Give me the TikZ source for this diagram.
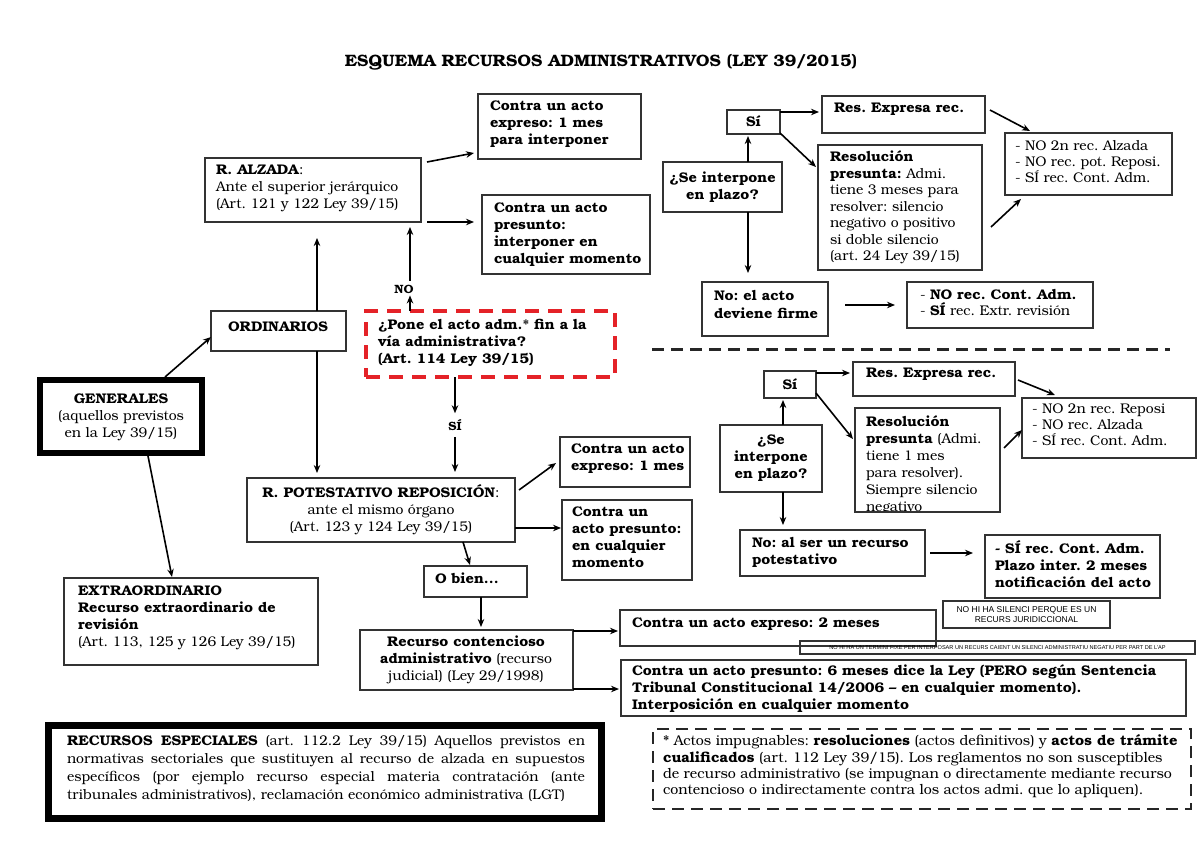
\documentclass[tikz,border=0pt]{standalone}
\usepackage{fontspec}
\setmainfont{TeX Gyre Bonum}[BoldFeatures={FakeStretch=1.04}]
\setsansfont{Liberation Sans}
\usetikzlibrary{calc,arrows.meta}
\newcommand\frm[6][]{\node[frm,#1,anchor=north west,minimum width={(#5)-(#3)},minimum height={(#6)-(#4)}] (#2) at (#3,#4) {};}
\frenchspacing
\begin{document}
\begin{tikzpicture}[x=1pt,y=-1pt,
  frm/.style={draw=black!80, line width=1.2pt, inner sep=0pt, outer sep=0pt},
  txt/.style={inner sep=0pt, outer sep=0pt, font=\fontsize{14}{17}\selectfont, align=left, anchor=north west},
  btxt/.style={txt, font=\bfseries\fontsize{14}{17}\selectfont},
  ctxt/.style={inner sep=0pt, outer sep=0pt, font=\fontsize{14}{17}\selectfont, align=center},
  bctxt/.style={ctxt, font=\bfseries\fontsize{14}{17}\selectfont},
  tiny/.style={inner sep=0pt, outer sep=0pt, font=\sffamily\fontsize{8.5}{9.5}\selectfont, align=center},
  arr/.style={line width=1.6pt, -{Stealth[length=8pt,width=6.5pt]}},
  thickfrm/.style={draw=black, line width=6pt, inner sep=0pt, outer sep=0pt},
  reddash/.style={draw={rgb,255:red,228;green,34;blue,40}, line width=3.5pt, dash pattern=on 14pt off 9pt},
  blkdash/.style={draw=black!85, line width=2.4pt, dash pattern=on 12pt off 7pt},
]
\useasboundingbox (0,0) rectangle (1200,849);
\fill[white] (0,0) rectangle (1200,849);

% title
\node[font=\bfseries\fontsize{16.5}{19}\selectfont] (title) at (601,62) {ESQUEMA RECURSOS ADMINISTRATIVOS (LEY 39/2015)};

% ---------- left / centre ----------
\frm{alz}{205}{158}{421}{222}
\node[txt] (alz-t) at (216,165) {\textbf{R. ALZADA}:\\Ante el superior jerárquico\\(Art. 121 y 122 Ley 39/15)};

\frm{cexp1}{478}{94}{641}{159}
\node[btxt] (cexp1-t) at (490,101) {Contra un acto\\expreso: 1 mes\\para interponer};

\frm{cpres1}{482}{195}{650}{274}
\node[btxt] (cpres1-t) at (494,203) {Contra un acto\\presunto:\\interponer en\\cualquier momento};

\frm{ordi}{211}{311}{346}{351}
\node[bctxt] (ordi-t) at (278,327) {ORDINARIOS};

\node[reddash,inner sep=0pt,outer sep=0pt,anchor=north west,minimum width=249,minimum height=66] (red) at (366,311) {};
\node[btxt] (red-t) at (378,319) {¿Pone el acto adm.* fin a la\\vía administrativa?\\(Art. 114 Ley 39/15)};

\node[thickfrm,anchor=north west,minimum width=162,minimum height=73] (gen) at (40,380) {};
\node[ctxt] (gen-t) at (121,417) {\textbf{GENERALES}\\(aquellos previstos\\en la Ley 39/15)};

\frm{extra}{64}{578}{318}{665}
\node[txt] (extra-t) at (78,586) {\textbf{EXTRAORDINARIO}\\\textbf{Recurso extraordinario de}\\\textbf{revisión}\\(Art. 113, 125 y 126 Ley 39/15)};

\frm{pot}{247}{478}{515}{542}
\node[ctxt] (pot-t) at (381,510) {\textbf{R. POTESTATIVO REPOSICIÓN}:\\ante el mismo órgano\\(Art. 123 y 124 Ley 39/15)};

\frm{cexp2}{560}{437}{690}{487}
\node[btxt] (cexp2-t) at (571,444) {Contra un acto\\expreso: 1 mes};

\frm{cpres2}{562}{500}{692}{580}
\node[btxt] (cpres2-t) at (572,507) {Contra un\\acto presunto:\\en cualquier\\momento};

\frm{obien}{424}{566}{527}{597}
\node[btxt] (obien-t) at (435,573) {O bien...};

\frm{cont}{360}{630}{573}{690}
\node[ctxt] (cont-t) at (466,660) {\textbf{Recurso contencioso}\\\textbf{administrativo} (recurso\\judicial) (Ley 29/1998)};

\frm{cexp3}{620}{610}{936}{646}
\node[btxt] (cexp3-t) at (632,618) {Contra un acto expreso: 2 meses};

\frm{cpres3}{621}{660}{1186}{716}
\node[btxt] (cpres3-t) at (632,665) {Contra un acto presunto: 6 meses dice la Ley (PERO según Sentencia\\Tribunal Constitucional 14/2006 -- en cualquier momento).\\Interposición en cualquier momento};

\frm{nota1}{943}{601}{1110}{628}
\node[tiny] (nota1-t) at (1026.5,614.5) {NO HI HA SILENCI PERQUE ES UN\\RECURS JURIDICCIONAL};

\frm{nota2}{800}{641}{1195}{654}
\node[tiny,font=\sffamily\fontsize{5.6}{6}\selectfont] (nota2-t) at (997.5,647.5) {NO HI HA UN TERMINI FIXE PER INTERPOSAR UN RECURS CAIENT UN SILENCI ADMINISTRATIU NEGATIU PER PART DE L'AP};

% labels
\node[font=\bfseries\fontsize{12}{14}\selectfont,inner sep=0pt] (nolab) at (404,289) {NO};
\node[font=\bfseries\fontsize{12}{14}\selectfont,inner sep=0pt] (silab) at (455,425) {SÍ};

% ---------- upper right ----------
\frm{si1}{727}{110}{780}{134}
\node[bctxt] (si1-t) at (753.5,121) {Sí};

\frm{plazo1}{663}{162}{782}{212}
\node[bctxt] (plazo1-t) at (722.5,187) {¿Se interpone\\en plazo?};

\frm{rexp1}{822}{96}{985}{133}
\node[btxt] (rexp1-t) at (834,103) {Res. Expresa rec.};

\frm{rpres1}{818}{145}{982}{270}
\node[txt,font=\fontsize{14}{16.5}\selectfont] (rpres1-t) at (830,151) {\textbf{Resolución}\\\textbf{presunta:} Admi.\\tiene 3 meses para\\resolver: silencio\\negativo o positivo\\si doble silencio\\(art. 24 Ley 39/15)};

\frm{res1}{1005}{133}{1172}{195}
\node[txt,font=\fontsize{14}{16}\selectfont] (res1-t) at (1015,140) {- NO 2n rec. Alzada\\- NO rec. pot. Reposi.\\- SÍ rec. Cont. Adm.};

\frm{firme}{702}{282}{828}{336}
\node[btxt,font=\bfseries\fontsize{14}{18}\selectfont] (firme-t) at (714,290) {No: el acto\\deviene firme};

\frm{fbox}{907}{282}{1093}{328}
\node[txt,font=\fontsize{14}{16}\selectfont] (fbox-t) at (920,289) {- \textbf{NO rec. Cont. Adm.}\\- \textbf{SÍ} rec. Extr. revisión};

% divider
\draw[blkdash,line width=3pt] (652,349) coordinate (dv1) -- (1170,349) coordinate (dv2);

% ---------- lower right ----------
\frm{si2}{764}{371}{816}{398}
\node[bctxt] (si2-t) at (790,384) {Sí};

\frm{plazo2}{720}{425}{822}{492}
\node[bctxt] (plazo2-t) at (771,458) {¿Se\\interpone\\en plazo?};

\frm{rexp2}{853}{362}{1015}{396}
\node[btxt] (rexp2-t) at (866,368) {Res. Expresa rec.};

\begin{scope}
\clip (855,408) rectangle (1000,511);
\node[txt] (rpres2-t) at (866,416) {\textbf{Resolución}\\\textbf{presunta} (Admi.\\tiene 1 mes\\para resolver).\\Siempre silencio\\negativo};
\end{scope}
\frm{rpres2}{855}{408}{1000}{512}

\frm{res2}{1022}{398}{1196}{458}
\node[txt,font=\fontsize{14}{16}\selectfont] (res2-t) at (1032,404) {- NO 2n rec. Reposi\\- NO rec. Alzada\\- SÍ rec. Cont. Adm.};

\frm{pot2}{740}{530}{925}{576}
\node[btxt] (pot2-t) at (752,537) {No: al ser un recurso\\potestativo};

\frm{pbox}{985}{535}{1160}{598}
\node[btxt] (pbox-t) at (995,541) {- SÍ rec. Cont. Adm.\\Plazo inter. 2 meses\\notificación del acto};

% ---------- bottom ----------
\node[draw=black, line width=7pt, inner sep=0pt, anchor=north west, minimum width=553, minimum height=93] (esp) at (45,722) {};
\node[txt,align=justify,text width=518,font=\fontsize{14}{18}\selectfont] (esp-t) at (67,735) {\textbf{RECURSOS ESPECIALES} (art. 112.2 Ley 39/15) Aquellos previstos en\linebreak normativas sectoriales que sustituyen al recurso de alzada en supuestos\linebreak específicos (por ejemplo recurso especial materia contratación (ante\linebreak tribunales administrativos), reclamación económico administrativa (LGT)};

\node[blkdash, inner sep=0pt, anchor=north west, minimum width=538, minimum height=80] (foot) at (652,728) {};
\node[txt,font=\fontsize{14.2}{16.3}\selectfont] (foot-t) at (663,735) {* Actos impugnables: \textbf{resoluciones} (actos definitivos) y \textbf{actos de trámite}\\\textbf{cualificados} (art. 112 Ley 39/15). Los reglamentos no son susceptibles\\de recurso administrativo (se impugnan o directamente mediante recurso\\contencioso o indirectamente contra los actos admi. que lo apliquen).};

% ---------- connectors ----------
\draw[arr] ($(alz.north east)+(6,4)$) -- ($(cexp1.south west)+(-4,-6)$);
\draw[arr] ($(alz.south east)+(6,0)$) -- ($(cpres1.north west)+(-8,27)$);
\draw[arr] ($(ordi.north west)+(106,0)$) -- ($(alz.south west)+(112,16)$);
\draw[arr] ($(ordi.south west)+(106,0)$) -- ($(pot.north west)+(70,-5)$);
\draw[arr] ($(red.north west)+(44,0)$) -- ($(nolab.south)+(6,2)$);
\draw[arr] ($(nolab.north)+(6,-4)$) -- ($(alz.south east)+(-11,5)$);
\draw[arr] ($(red.south west)+(89,0)$) -- ($(silab.north)+(0,-6)$);
\draw[arr] ($(silab.south)+(0,6)$) -- ($(pot.north west)+(208,-6)$);
\draw[arr] ($(gen.north west)+(125,-3)$) -- ($(ordi.south west)+(0,-14)$);
\draw[arr] ($(gen.south west)+(108,3)$) -- ($(extra.north west)+(108,-1)$);
\draw[arr] ($(pot.north east)+(4,12)$) -- ($(cexp2.south west)+(-4,-24)$);
\draw[arr] ($(pot.south east)+(0,-14)$) -- ($(cpres2.north west)+(-1,28)$);
\draw[arr] ($(pot.south west)+(216,0)$) -- ($(obien.north west)+(46,-1)$);
\draw[arr] ($(obien.south west)+(57,0)$) -- ($(cont.north west)+(121,-3)$);
\draw[arr] ($(cont.north east)+(0,1)$) -- ($(cexp3.north west)+(-2,21)$);
\draw[arr] ($(cont.south east)+(0,-1)$) -- ($(cpres3.north west)+(-2,29)$);

\draw[arr] ($(plazo1.north west)+(85,0)$) -- ($(si1.south west)+(21,2)$);
\draw[arr] ($(si1.north east)+(0,2)$) -- ($(rexp1.north west)+(-3,16)$);
\draw[arr] ($(si1.south east)+(0,-1)$) -- ($(rpres1.north west)+(-2,22)$);
\draw[arr] ($(rexp1.north east)+(5,14)$) -- ($(res1.north west)+(25,-2)$);
\draw[arr] ($(rpres1.north east)+(9,82)$) -- ($(res1.south west)+(16,4)$);
\draw[arr] ($(plazo1.south west)+(85,0)$) -- ($(firme.north west)+(46,-9)$);
\draw[arr] ($(firme.north east)+(17,23)$) -- ($(fbox.north west)+(-12,23)$);

\draw[arr] ($(plazo2.north west)+(63,0)$) -- ($(si2.south west)+(19,2)$);
\draw[arr] ($(si2.north east)+(0,2)$) -- ($(rexp2.north west)+(-3,11)$);
\draw[arr] ($(si2.south east)+(0,-5)$) -- ($(rpres2.north west)+(-2,31)$);
\draw[arr] ($(rexp2.north east)+(3,18)$) -- ($(res2.north west)+(33,-3)$);
\draw[arr] ($(rpres2.north east)+(4,40)$) -- ($(res2.north west)+(0,32)$);
\draw[arr] ($(plazo2.south west)+(63,0)$) -- ($(pot2.north west)+(43,-5)$);
\draw[arr] ($(pot2.north east)+(5,23)$) -- ($(pbox.north west)+(-12,18)$);
\end{tikzpicture}
\end{document}
